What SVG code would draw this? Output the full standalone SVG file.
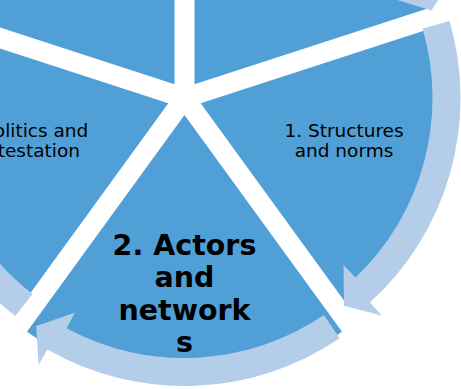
<svg xmlns="http://www.w3.org/2000/svg" width="461" height="389" viewBox="0 0 461 389">
<style>
.seg{fill:#50A0D7}
.arr{fill:#B4CDE8}
.lbl{font-family:"DejaVu Sans",Verdana,sans-serif;font-size:18.5px;fill:#000;text-anchor:middle}
.big{font-weight:bold;font-size:28.5px}
.end{text-anchor:end}
</style>
<rect width="461" height="389" fill="#fff"/>
<g id="node-1">
<path class="seg" d="M200.67 103.25 L438.43 26.00 A250 250 0 0 1 347.61 305.51 Z"/>
<text class="lbl" x="344" y="137">1. Structures</text>
<text class="lbl" x="344" y="157">and norms</text>
</g>
<g id="node-2">
<path class="seg" d="M184.5 115 L342.03 331.82 A268 268 0 0 1 26.97 331.82 Z"/>
<text class="lbl big" x="184.5" y="255">2. Actors</text>
<text class="lbl big" x="184.5" y="287">and</text>
<text class="lbl big" x="184.5" y="320">network</text>
<text class="lbl big" x="184.5" y="352">s</text>
</g>
<g id="node-3">
<path class="seg" d="M168.33 103.25 L21.39 305.51 A250 250 0 0 1 -69.43 26.00 Z"/>
<text class="lbl end" x="88.3" y="137">olitics and</text>
<text class="lbl end" x="80" y="157">testation</text>
</g>
<g id="node-4">
<path class="seg" d="M174.51 84.25 L-63.26 6.99 A250 250 0 0 1 174.51 -165.75 Z"/>
</g>
<g id="node-5">
<path class="seg" d="M194.49 84.25 L194.49 -165.75 A250 250 0 0 1 432.26 6.99 Z"/>
</g>
<g id="connectors">
<path class="arr" d="M422.65 28.81 L449.54 21.00 A276 276 0 0 1 369.90 302.46 L381.65 315.43 L343.99 305.86 L343.46 264.92 L355.53 277.59 A248 248 0 0 0 422.65 28.81 Z"/>
<path class="arr" d="M323.90 315.12 L339.63 338.27 A276 276 0 0 1 47.34 349.51 L38.64 364.69 L36.10 325.92 L74.87 312.76 L66.55 328.15 A248 248 0 0 0 323.90 315.12 Z"/>
<path class="arr" d="M32.50 293.96 L15.34 316.08 A276 276 0 0 1 -85.67 41.56 L-102.80 37.98 L-66.71 23.59 L-42.21 56.39 L-59.43 53.23 A248 248 0 0 0 32.50 293.96 Z"/>
<path class="arr" d="M-48.84 13.99 L-75.18 4.51 A276 276 0 0 1 154.69 -176.39 L152.80 -193.78 L177.64 -163.91 L154.01 -130.48 L151.70 -147.82 A248 248 0 0 0 -48.84 13.99 Z"/>
<path class="arr" d="M192.29 -149.88 L193.17 -177.87 A276 276 0 0 1 436.25 -15.14 L452.21 -22.31 L431.47 10.54 L392.37 -1.60 L408.15 -9.16 A248 248 0 0 0 192.29 -149.88 Z"/>
</g>
</svg>
